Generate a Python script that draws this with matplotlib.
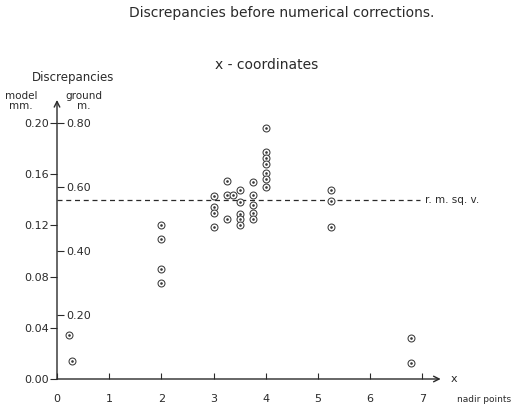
import matplotlib

matplotlib.use("Agg")
import matplotlib.pyplot as plt

# Discrepancies (model, mm), per nadir point
nadir_x = [0.23, 0.29,
           2.0, 2.0, 2.0, 2.0,
           3.0, 3.0, 3.0, 3.0,
           3.25, 3.25, 3.25,
           3.37,
           3.5, 3.5, 3.5, 3.5, 3.5,
           3.75, 3.75, 3.75, 3.75, 3.75,
           4.0, 4.0, 4.0, 4.0, 4.0, 4.0, 4.0,
           5.25, 5.25, 5.25,
           6.78, 6.78]
model_disc = [0.034, 0.014,
              0.120, 0.109, 0.086, 0.075,
              0.143, 0.134, 0.130, 0.119,
              0.155, 0.144, 0.125,
              0.144,
              0.148, 0.138, 0.129, 0.125, 0.120,
              0.154, 0.144, 0.136, 0.130, 0.125,
              0.196, 0.177, 0.173, 0.168, 0.161, 0.156, 0.150,
              0.148, 0.139, 0.119,
              0.032, 0.0125]
rms_value = 0.140
model_ticks = [0.00, 0.04, 0.08, 0.12, 0.16, 0.20]
model_labels = ["0.00", "0.04", "0.08", "0.12", "0.16", "0.20"]
ground_ticks = [0.20, 0.40, 0.60, 0.80]
ground_labels = ["0.20", "0.40", "0.60", "0.80"]
x_ticks = [0, 1, 2, 3, 4, 5, 6, 7]

INK = "#2a2a2a"
W, H = 515, 416
plt.rcParams["font.family"] = "DejaVu Sans"


def px(x, y):
    """Pixel position (from top-left) -> figure fraction."""
    return x / W, 1 - y / H


fig = plt.figure(figsize=(W / 100, H / 100), dpi=100)
ax = fig.add_axes([57 / W, 1 - 379 / H, 391.5 / W, 288 / H])
ax.set_xlim(0, 7.5)
ax.set_ylim(0, 0.225)
for spine in ax.spines.values():
    spine.set_visible(False)

# axes drawn as arrows
arrow = dict(arrowstyle="->", color=INK, lw=1.0, shrinkA=0, shrinkB=0)
ax.annotate("", xy=(7.35, 0), xytext=(0, 0), arrowprops=arrow, annotation_clip=False)
ax.annotate("", xy=(0, 0.218), xytext=(0, 0), arrowprops=arrow, annotation_clip=False)

ax.set_xticks(x_ticks)
ax.set_xticklabels([str(t) for t in x_ticks])
ax.tick_params(axis="x", direction="in", length=4, width=0.8, pad=11,
               labelsize=8, color=INK, labelcolor=INK)
ax.set_yticks(model_ticks)
ax.set_yticklabels(model_labels)
ax.tick_params(axis="y", direction="out", length=5, width=0.8, pad=1,
               labelsize=8, color=INK, labelcolor=INK)

# ground scale (m) = 4 x model scale (mm), ticks on the inner side of the axis
sec = ax.secondary_yaxis(0.0, functions=(lambda m: 4 * m, lambda g: g / 4))
sec.set_alignment("right")
sec.set_yticks(ground_ticks)
sec.set_yticklabels(ground_labels)
sec.tick_params(direction="out", length=5, width=0.8, pad=1.5,
                labelsize=8, color=INK, labelcolor=INK)
for spine in sec.spines.values():
    spine.set_visible(False)

# r.m.s. value
ax.plot([0, 6.95], [rms_value, rms_value], ls=(0, (4, 3)), lw=0.9, color=INK)
ax.text(7.05, rms_value, "r. m. sq. v.", fontsize=7.5, color=INK,
        ha="left", va="center", clip_on=False)

# data points: small circles with a centre dot
ax.plot(nadir_x, model_disc, "o", ms=5, mfc="white", mec="#3a3a3a", mew=0.75, clip_on=False)
ax.plot(nadir_x, model_disc, ".", ms=1.8, color="#3a3a3a", clip_on=False)

fig.text(*px(282, 13), "Discrepancies before numerical corrections.",
         fontsize=10, color=INK, ha="center", va="center")
fig.text(*px(267, 65), "x - coordinates", fontsize=10, color=INK, ha="center", va="center")
fig.text(*px(73, 77), "Discrepancies", fontsize=8.5, color=INK, ha="center", va="center")
fig.text(*px(21, 101), "model\nmm.", fontsize=7.5, color=INK, ha="center", va="center",
         linespacing=0.9)
fig.text(*px(84, 101), "ground\nm.", fontsize=7.5, color=INK, ha="center", va="center",
         linespacing=0.9)
fig.text(*px(451, 379), "x", fontsize=8, color=INK, ha="left", va="center")
fig.text(*px(457, 400), "nadir points", fontsize=6.5, color=INK, ha="left", va="center")

fig.savefig("out.png", dpi=100)
